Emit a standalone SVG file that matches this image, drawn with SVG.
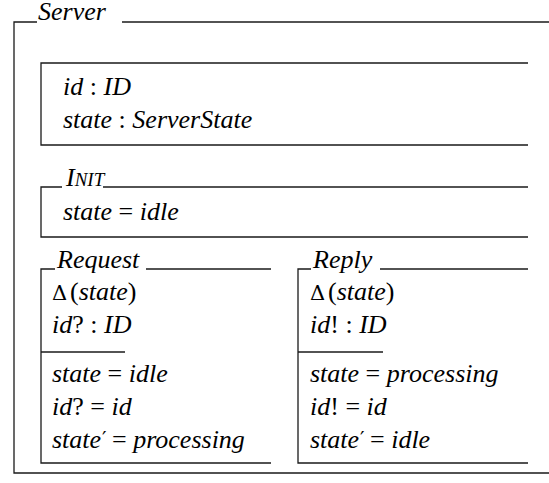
<svg xmlns="http://www.w3.org/2000/svg" width="549" height="483" viewBox="0 0 549 483">
<rect width="549" height="483" fill="#fff"/>
<g id="server">
<path d="M37,22 H14 V473 H549" stroke="#1a1a1a" stroke-width="1.3" fill="none"/>
<line x1="122" y1="22" x2="549" y2="22" stroke="#1a1a1a" stroke-width="1.3"/>
<text x="38" y="20" font-family="Liberation Serif" font-size="26" font-style="italic">Server</text>
</g>
<g id="state">
<path d="M528,63 H41 V145 H528" stroke="#1a1a1a" stroke-width="1.3" fill="none"/>
<text x="63" y="95" font-family="Liberation Serif" font-size="26" font-style="italic">id <tspan font-style="normal">:</tspan> ID</text>
<text x="63" y="128" font-family="Liberation Serif" font-size="26" font-style="italic">state <tspan font-style="normal">:</tspan> ServerState</text>
</g>
<g id="init">
<path d="M62,187 H41 V237 H528" stroke="#1a1a1a" stroke-width="1.3" fill="none"/>
<line x1="103" y1="187" x2="528" y2="187" stroke="#1a1a1a" stroke-width="1.3"/>
<text x="66" y="186" font-family="Liberation Serif" font-size="26" font-style="italic">I<tspan font-size="19">NIT</tspan></text>
<text x="63" y="220" font-family="Liberation Serif" font-size="26" font-style="italic">state <tspan font-style="normal">=</tspan> idle</text>
</g>
<g id="request">
<path d="M55,269 H41 V463 H271" stroke="#1a1a1a" stroke-width="1.3" fill="none"/>
<line x1="146" y1="269" x2="271" y2="269" stroke="#1a1a1a" stroke-width="1.3"/>
<line x1="41" y1="352" x2="125" y2="352" stroke="#1a1a1a" stroke-width="1.3"/>
<text x="57" y="268" font-family="Liberation Serif" font-size="26" font-style="italic">Request</text>
<text x="52" y="300" font-family="DejaVu Serif" font-size="21">Δ</text>
<text x="70" y="300" font-family="Liberation Serif" font-size="26" font-style="italic"><tspan font-style="normal">(</tspan>state<tspan font-style="normal">)</tspan></text>
<text x="52" y="333" font-family="Liberation Serif" font-size="26" font-style="italic">id<tspan font-style="normal">? :</tspan> ID</text>
<text x="52" y="382" font-family="Liberation Serif" font-size="26" font-style="italic">state <tspan font-style="normal">=</tspan> idle</text>
<text x="52" y="415" font-family="Liberation Serif" font-size="26" font-style="italic">id<tspan font-style="normal">? =</tspan> id</text>
<text x="52" y="448" font-family="Liberation Serif" font-size="26" font-style="italic">state</text>
<text x="102" y="446" font-family="DejaVu Serif" font-size="20">′</text>
<text x="112" y="448" font-family="Liberation Serif" font-size="26" font-style="italic"><tspan font-style="normal">=</tspan> processing</text>
</g>
<g id="reply">
<path d="M311,269 H298 V463 H528" stroke="#1a1a1a" stroke-width="1.3" fill="none"/>
<line x1="380" y1="269" x2="528" y2="269" stroke="#1a1a1a" stroke-width="1.3"/>
<line x1="298" y1="352" x2="383" y2="352" stroke="#1a1a1a" stroke-width="1.3"/>
<text x="313" y="268" font-family="Liberation Serif" font-size="26" font-style="italic">Reply</text>
<text x="310" y="300" font-family="DejaVu Serif" font-size="21">Δ</text>
<text x="328" y="300" font-family="Liberation Serif" font-size="26" font-style="italic"><tspan font-style="normal">(</tspan>state<tspan font-style="normal">)</tspan></text>
<text x="310" y="333" font-family="Liberation Serif" font-size="26" font-style="italic">id<tspan font-style="normal">! :</tspan> ID</text>
<text x="310" y="382" font-family="Liberation Serif" font-size="26" font-style="italic">state <tspan font-style="normal">=</tspan> processing</text>
<text x="310" y="415" font-family="Liberation Serif" font-size="26" font-style="italic">id<tspan font-style="normal">! =</tspan> id</text>
<text x="310" y="448" font-family="Liberation Serif" font-size="26" font-style="italic">state</text>
<text x="360" y="446" font-family="DejaVu Serif" font-size="20">′</text>
<text x="370" y="448" font-family="Liberation Serif" font-size="26" font-style="italic"><tspan font-style="normal">=</tspan> idle</text>
</g>
</svg>
